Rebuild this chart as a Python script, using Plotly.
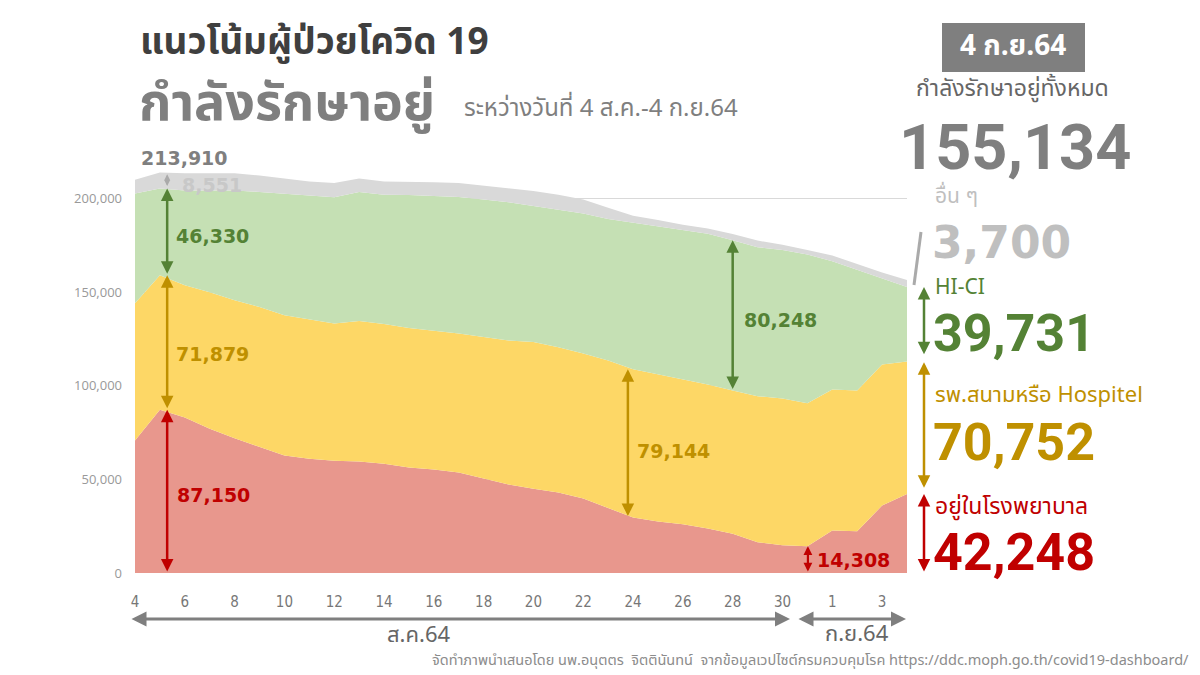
import plotly.graph_objects as go
import pandas as pd

# ---------------- data ----------------
dates = [d.strftime("%Y-%m-%d") for d in pd.date_range("2021-08-04", "2021-09-04")]
hospital = [70800, 87150, 83000, 77000, 72000, 67500, 62700, 61000, 60000, 59500, 58300,
            56400, 55300, 53700, 50500, 47300, 45000, 43000, 39800, 34500, 29600, 27500,
            26000, 23800, 21000, 16400, 14800, 14308, 22700, 22300, 36000, 42248]
field_hosp = [73200, 71879, 70600, 72900, 73600, 74500, 75000, 74300, 73200, 75000, 74700,
              74400, 74200, 74200, 75500, 76900, 78300, 77600, 77400, 79000, 79144, 78500,
              77200, 76900, 76500, 78000, 78400, 76400, 75300, 75200, 75400, 70752]
hici = [58600, 46330, 50700, 54400, 58700, 61500, 64900, 66100, 67500, 68900, 69000,
        71000, 71800, 72900, 73500, 73800, 72700, 73400, 74800, 75500, 78250, 79000,
        79800, 80500, 80248, 79600, 79300, 79300, 68500, 64500, 46100, 39731]
others = [7400, 8551, 9100, 9100, 9100, 8800, 7900, 7600, 7500, 7200, 7000,
          7200, 7300, 7500, 7500, 7500, 8000, 8000, 7500, 6000, 3800, 3500,
          3000, 2800, 3300, 3500, 2800, 2500, 3000, 3000, 3000, 3700]
tick_days = dates[0:27:2] + [dates[28], dates[30]]
tick_text = ["4", "6", "8", "10", "12", "14", "16", "18", "20", "22", "24", "26", "28", "30", "1", "3"]
total_latest = "155,134"

# ---------------- style ----------------
C_RED, C_YEL, C_GRN, C_GRY = "#E8978D", "#FDD766", "#C5E0B4", "#D9D9D9"
T_RED, T_YEL, T_GRN, T_GRY = "#C00000", "#BF9000", "#548235", "#7F7F7F"
THAI = "Noto Sans Thai, Noto Sans, sans-serif"
NUM = "DejaVu Sans"
BIG = "Roboto"

L, R, T, B = 135, 293, 161, 102
W, H = 1200, 675
PW, PH = W - L - R, H - T - B


def px(x):
    return (x - L) / PW


def py(y):
    return (H - B - y) / PH


fig = go.Figure()
for name, vals, col in [("อยู่ในโรงพยาบาล", hospital, C_RED),
                        ("รพ.สนามหรือ Hospitel", field_hosp, C_YEL),
                        ("HI-CI", hici, C_GRN),
                        ("อื่น ๆ", others, C_GRY)]:
    fig.add_trace(go.Scatter(x=dates, y=vals, name=name, mode="lines", stackgroup="one",
                             line=dict(width=0, color=col), fillcolor=col, hoverinfo="skip"))

ann = []


def varrow(x, y0, y1, color, width=2.5, size=1.0, xref="x"):
    d = dict(x=x, y=y1, ax=(x if xref == "x" else 0), ay=y0, xref=xref, yref="y",
             axref=("x" if xref == "x" else "pixel"), ayref="y", text="", showarrow=True,
             arrowhead=2, startarrowhead=2, arrowside="end+start", arrowcolor=color,
             arrowwidth=width, arrowsize=size, startarrowsize=size, standoff=0, startstandoff=0)
    ann.append(d)


def text(x, y, s, size, color, family=THAI, bold=False, xanchor="left", yanchor="middle",
         xref="paper", yref="paper"):
    if bold:
        s = "<b>" + s + "</b>"
    ann.append(dict(x=x, y=y, xref=xref, yref=yref, text=s, showarrow=False,
                    font=dict(size=size, color=color, family=family),
                    xanchor=xanchor, yanchor=yanchor))


# cumulative levels for arrows
c1 = [hospital[i] for i in range(len(dates))]
c2 = [c1[i] + field_hosp[i] for i in range(len(dates))]
c3 = [c2[i] + hici[i] for i in range(len(dates))]
c4 = [c3[i] + others[i] for i in range(len(dates))]

xa = "2021-08-05 07:00"
varrow(xa, 0, c1[1], T_RED)
varrow(xa, c1[1], c2[1], T_YEL)
varrow(xa, c2[1], c3[1], T_GRN)
varrow(xa, c3[1] + 500, c4[1] - 1000, "#AAAAAA", width=1.5, size=0.8)
xb = "2021-08-23 19:00"
varrow(xb, c1[20], c2[20], T_YEL)
xc = "2021-08-28 00:00"
varrow(xc, c2[24], c3[24], T_GRN)
xd = "2021-08-31 00:30"
varrow(xd, 0, c1[27], T_RED, width=2.2, size=0.8)

# right-hand arrows
xr = px(924)
varrow(xr, c2[31] + 3000, c3[31], T_GRN, xref="x domain")
varrow(xr, c1[31] + 2500, c2[31] - 500, T_YEL, xref="x domain")
varrow(xr, 0, c1[31], T_RED, xref="x domain")

# in-chart labels
text(px(139), py(158), "213,910", 19, "#7F7F7F", NUM, True)
text(px(180), py(185), "8,551", 19, "#C8C8C8", NUM, True)
text(px(174), py(236), "46,330", 19, T_GRN, NUM, True)
text(px(174), py(354), "71,879", 19, T_YEL, NUM, True)
text(px(175), py(495), "87,150", 19, T_RED, NUM, True)
text(px(635), py(451), "79,144", 19, T_YEL, NUM, True)
text(px(742), py(320), "80,248", 19, T_GRN, NUM, True)
text(px(815), py(560), "14,308", 19, T_RED, NUM, True)

# titles
text(px(138), py(43), "แนวโน้มผู้ป่วยโควิด 19", 37, "#3F3F3F", THAI, True)
text(px(137), py(104), "กำลังรักษาอยู่", 52, "#7F7F7F", THAI, True)
text(px(462), py(109), "ระหว่างวันที่ 4 ส.ค.-4 ก.ย.64", 24, "#7F7F7F", THAI)

# right panel
text(px(1013), py(47), "4 ก.ย.64", 28, "white", THAI, True, xanchor="center")
text(px(1012), py(89), "กำลังรักษาอยู่ทั้งหมด", 23, "#666666", THAI, xanchor="center")
text(px(1015), py(147), total_latest, 63, "#7F7F7F", BIG, True, xanchor="center")
text(px(933), py(196), "อื่น ๆ", 21, "#BFBFBF", THAI)
text(px(930), py(242), "3,700", 44, "#BFBFBF", NUM, True)
text(px(933), py(287), "HI-CI", 21, T_GRN, THAI)
text(px(931), py(333), "39,731", 52, T_GRN, BIG, True)
text(px(933), py(395), "รพ.สนามหรือ Hospitel", 22, T_YEL, THAI)
text(px(931), py(442), "70,752", 52, T_YEL, BIG, True)
text(px(933), py(507), "อยู่ในโรงพยาบาล", 23, T_RED, THAI)
text(px(931), py(552), "42,248", 52, T_RED, BIG, True)


def harrow(x0, x1, y):
    ann.append(dict(x=px(x1), y=py(y), ax=px(x0), ay=py(y), xref="x domain", yref="y domain",
                    axref="x domain", ayref="y domain", text="", showarrow=True, arrowhead=2,
                    startarrowhead=2, arrowside="end+start", arrowcolor="#7F7F7F", arrowwidth=3,
                    arrowsize=1, startarrowsize=1, standoff=0, startstandoff=0))


harrow(130, 790, 619)
harrow(797, 906, 619)
text(px(418), py(635), "ส.ค.64", 22, "#666666", THAI, xanchor="center")
text(px(857), py(634), "ก.ย.64", 22, "#666666", THAI, xanchor="center")

# footer
text(px(1191), py(661),
     "จัดทำภาพนำเสนอโดย นพ.อนุตตร  จิตตินันทน์  จากข้อมูลเวปไซต์กรมควบคุมโรค https://ddc.moph.go.th/covid19-dashboard/",
     14.5, "#8C8C8C", THAI, xanchor="right")

shapes = [
    dict(type="rect", xref="paper", yref="paper", x0=px(942), x1=px(1085), y0=py(72), y1=py(23),
         fillcolor="#7F7F7F", line=dict(width=0), layer="below"),
    dict(type="line", xref="paper", yref="paper", x0=px(921), x1=px(914), y0=py(232), y1=py(285),
         line=dict(color="#AAAAAA", width=3)),
]

fig.update_layout(
    width=W, height=H, margin=dict(l=L, r=R, t=T, b=B),
    plot_bgcolor="white", paper_bgcolor="white", showlegend=False,
    annotations=ann, shapes=shapes,
    xaxis=dict(type="date", range=[dates[0], dates[-1]], tickvals=tick_days, ticktext=tick_text,
               showgrid=False, zeroline=False, showline=False, ticks="",
               tickfont=dict(family="DejaVu Sans Condensed", size=15, color="#777777"),
               ticklabelstandoff=18),
    yaxis=dict(range=[0, 220000], tickvals=[0, 50000, 100000, 150000, 200000],
               ticktext=["0", "50,000", "100,000", "150,000", "200,000"],
               showgrid=True, gridcolor="#D9D9D9", gridwidth=1, zeroline=False, showline=False,
               ticks="", tickfont=dict(family="Open Sans", size=13, color="#999999"),
               ticklabelstandoff=12),
)

fig.write_html("out.html")
